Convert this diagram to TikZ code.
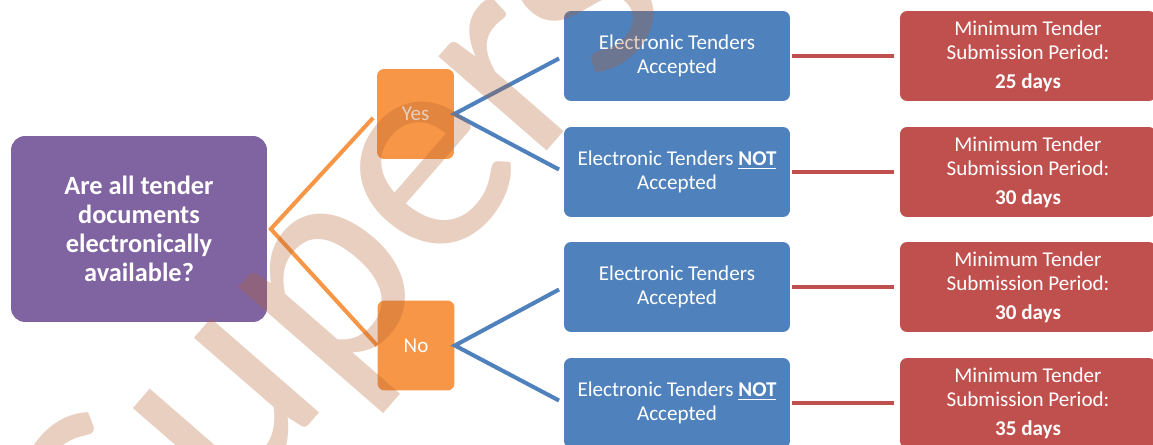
\documentclass[tikz,border=0pt]{standalone}
\usepackage{fontspec}
\setmainfont{Carlito}
\usepackage{xcolor}
\usepackage{tikz}
\usetikzlibrary{positioning}
\definecolor{askcolor}{RGB}{128, 100, 162}
\definecolor{choicecolor}{RGB}{247, 150, 70}
\definecolor{tendercolor}{RGB}{79, 129, 189}
\definecolor{periodcolor}{RGB}{192, 80, 77}
\definecolor{stampcolor}{RGB}{178, 95, 45}

\begin{document}
\begin{tikzpicture}[
    x=0.02cm, y=-0.02cm,
    question/.style={fill=askcolor, rounded corners=8pt, minimum width=5.12cm, minimum height=3.72cm, inner sep=0pt, align=center, text=white, font=\fontsize{15}{16.5}\selectfont\bfseries},
    choice/.style={fill=choicecolor, rounded corners=4pt, minimum width=1.54cm, minimum height=1.8cm, inner sep=0pt, text=white, font=\fontsize{12}{13.5}\selectfont},
    tender/.style={fill=tendercolor, rounded corners=4pt, minimum width=4.52cm, minimum height=1.8cm, inner sep=0pt, align=center, text=white, font=\fontsize{12}{13.5}\selectfont},
    period/.style={fill=periodcolor, rounded corners=4pt, minimum width=5.12cm, minimum height=1.8cm, inner sep=0pt, align=center, text=white, font=\fontsize{12}{13.5}\selectfont},
    fork/.style={line width=2.3pt},
    link/.style={line width=2.6pt, periodcolor, shorten <=1pt, shorten >=3pt}
]
    \useasboundingbox (0,0) rectangle (1153,445);
    \clip (0,0) rectangle (1153,445);

    % Question
    \node[question] (ask) at (139, 229) {Are all tender\\documents\\electronically\\available?};

    % Answers
    \node[choice] (yes) at (415.5, 114) {Yes};
    \node[choice] (no) at (416, 345.5) {No};

    % Tender types
    \node[tender] (yesacc) at (677, 56) {Electronic Tenders\\Accepted};
    \node[tender] (yesnot) at (677, 172) {Electronic Tenders \textbf{\underline{NOT}}\\Accepted};
    \node[tender] (noacc) at (677, 287) {Electronic Tenders\\Accepted};
    \node[tender] (nonot) at (677, 403) {Electronic Tenders \textbf{\underline{NOT}}\\Accepted};

    % Periods
    \node[period] (p25) at (1028, 56) {Minimum Tender\\Submission Period:\\[3pt]\textbf{25 days}};
    \node[period] (p30a) at (1028, 172) {Minimum Tender\\Submission Period:\\[3pt]\textbf{30 days}};
    \node[period] (p30b) at (1028, 287) {Minimum Tender\\Submission Period:\\[3pt]\textbf{30 days}};
    \node[period] (p35) at (1028, 403) {Minimum Tender\\Submission Period:\\[3pt]\textbf{35 days}};

    % Connections
    \draw[fork, choicecolor, shorten <=3pt] (yes.west) -- ([xshift=2pt]ask.east) -- (no.west);
    \draw[fork, tendercolor, shorten <=3pt, shorten >=3pt] (yesacc.west) -- (yes.east) -- (yesnot.west);
    \draw[fork, tendercolor, shorten <=3pt, shorten >=3pt] (noacc.west) -- (no.east) -- (nonot.west);

    \draw[link] (yesacc) -- (p25);
    \draw[link] (yesnot) -- (p30a);
    \draw[link] (noacc) -- (p30b);
    \draw[link] (nonot) -- (p35);

    % Stamp
    \node[anchor=base west, rotate=49, inner sep=0pt, text=stampcolor, text opacity=0.3, font=\fontsize{171}{171}\selectfont] (stamp) at (139, 621) {Supers};
\end{tikzpicture}
\end{document}
